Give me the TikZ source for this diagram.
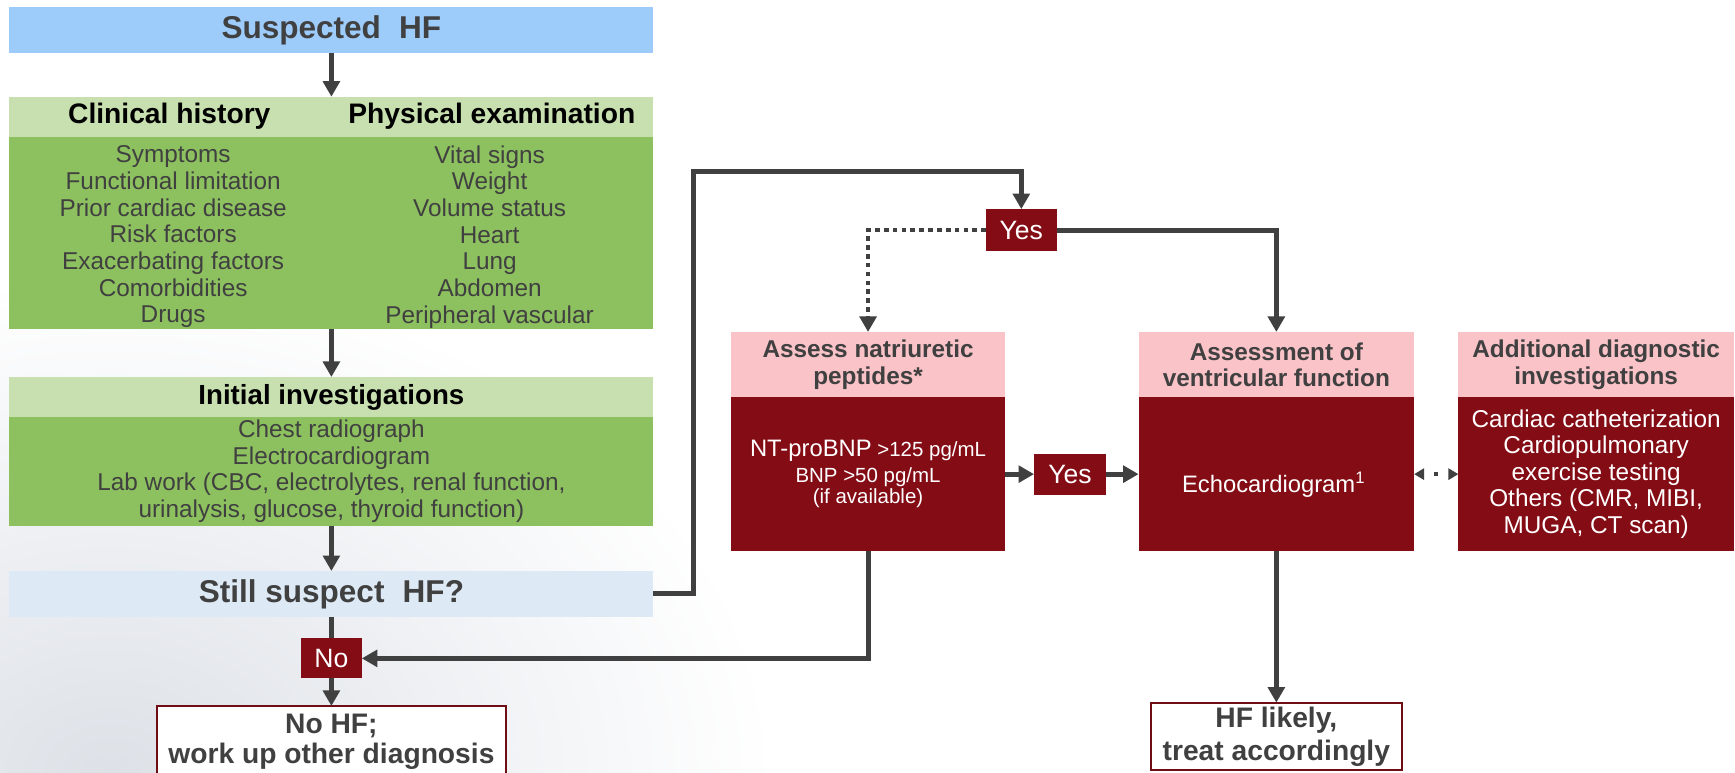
\documentclass[tikz,border=0pt]{standalone}
\usepackage{fontspec}
\setmainfont{Liberation Sans}
\usetikzlibrary{arrows.meta}
\definecolor{dred}{HTML}{830C15}
\definecolor{dredline}{HTML}{6E0E14}
\definecolor{pinkh}{HTML}{F9C3C8}
\definecolor{bluetop}{HTML}{9DCCFB}
\definecolor{greenh}{HTML}{C8E0B0}
\definecolor{greenb}{HTML}{8DC15F}
\definecolor{stillc}{HTML}{DDE9F5}
\definecolor{tgray}{HTML}{404040}
\definecolor{agray}{HTML}{404040}
\definecolor{bgshade}{HTML}{DDE1E7}
\newcommand\myfs[2]{\fontsize{#1}{#2}\selectfont}
\begin{document}
\begin{tikzpicture}[x=1pt,y=-1pt,
  box/.style={inner sep=0pt, outer sep=0pt, align=center},
  ln/.style={draw=agray, line width=4.5pt},
  arr/.style={ln, -{Triangle[width=15pt,length=14pt]}},
  dotarr/.style={draw=agray, line width=4.2pt, dash pattern=on 4.2pt off 3.8pt, -{Triangle[width=15pt,length=14pt]}},
  dotdbl/.style={draw=agray, line width=4pt, dash pattern=on 4pt off 30pt, dash phase=24.5pt, {Triangle[width=10pt,length=9pt]}-{Triangle[width=10pt,length=9pt]}},
  redbox/.style={box, fill=dred, text=white},
  pinkbox/.style={box, fill=pinkh, text=tgray, font=\myfs{22}{24}\bfseries},
  endbox/.style={box, fill=white, draw=dredline, line width=1.8pt, text=tgray}
]
\useasboundingbox (0,0) rectangle (1568,698);
\fill[white] (0,0) rectangle (1568,698);
\shade[inner color=bgshade, outer color=white] (-500,250) rectangle (700,1150);

% left column
\node[box, fill=bluetop, minimum width=582pt, minimum height=41.4pt, text=tgray, font=\myfs{28.5}{30}\bfseries] (sus) at (299.5,27.3) {Suspected\hspace{0.3em} HF};

\node[box, fill=greenh, minimum width=582pt, minimum height=36pt] (chh) at (299.5,105.4) {};
\node[box, font=\myfs{25.5}{27}\bfseries] (cht) at (153,105.4) {Clinical history};
\node[box, font=\myfs{25.5}{27}\bfseries] (pet) at (444.5,105.4) {Physical examination};
\node[box, fill=greenb, minimum width=582pt, minimum height=174pt] (chb) at (299.5,210.5) {};
\node[box, text=tgray, font=\myfs{22}{24.1}] (chl) at (156.5,214) {Symptoms\\Functional limitation\\Prior cardiac disease\\Risk factors\\Exacerbating factors\\Comorbidities\\Drugs};
\node[box, text=tgray, font=\myfs{22}{24.1}] (per) at (442.5,214) {Vital signs\\Weight\\Volume status\\Heart\\Lung\\Abdomen\\Peripheral vascular};

\node[box, fill=greenh, minimum width=582pt, minimum height=36.2pt, font=\myfs{25}{27}\bfseries] (inh) at (299.5,358.8) {Initial investigations};
\node[box, fill=greenb, minimum width=582pt, minimum height=98pt, text=tgray, font=\myfs{22}{24}] (inb) at (299.5,426) {Chest radiograph\\Electrocardiogram\\Lab work (CBC, electrolytes, renal function,\\urinalysis, glucose, thyroid function)};

\node[box, fill=stillc, minimum width=582pt, minimum height=41.5pt, text=tgray, font=\myfs{28.5}{30}\bfseries] (still) at (299.5,536.8) {Still suspect\hspace{0.3em} HF?};

\node[redbox, minimum width=55pt, minimum height=36pt, font=\myfs{24}{26}] (no) at (299.5,595) {No};
\node[endbox, minimum width=315pt, minimum height=65pt, font=\myfs{25.5}{26.5}\bfseries] (nohf) at (299.5,670.5) {No HF;\\work up other diagnosis};

% right part
\coordinate (c1) at (627,155);
\node[redbox, minimum width=64pt, minimum height=38pt, font=\myfs{24}{26}] (yes1) at (923,208) {Yes};

\node[pinkbox, minimum width=247pt, minimum height=59pt] (assh) at (784.5,329.5) {Assess natriuretic\\peptides*};
\node[redbox, minimum width=247pt, minimum height=139pt, font=\myfs{18.5}{18.5}] (assb) at (784.5,428.5) {{\myfs{21.5}{23}NT-proBNP} >125 pg/mL\\[5pt]BNP >50 pg/mL\\(if available)};

\node[redbox, minimum width=65pt, minimum height=37pt, font=\myfs{24}{26}] (yes2) at (967,428.5) {Yes};

\node[pinkbox, minimum width=249pt, minimum height=59pt] (avfh) at (1153.5,329.5) {Assessment of\\ventricular function};
\node[redbox, minimum width=249pt, minimum height=139pt] (avfb) at (1153.5,428.5) {};
\node[box, text=white, font=\myfs{21.5}{23}] (echo) at (1151,438) {Echocardiogram\textsuperscript{1}};

\node[pinkbox, minimum width=249pt, minimum height=59pt] (addh) at (1442.5,329.5) {Additional diagnostic\\investigations};
\node[redbox, minimum width=249pt, minimum height=139pt, font=\myfs{22}{24}] (addb) at (1442.5,428.5) {Cardiac catheterization\\Cardiopulmonary\\exercise testing\\Others (CMR, MIBI,\\MUGA, CT scan)};

\node[endbox, minimum width=227pt, minimum height=61pt, font=\myfs{25.5}{30}\bfseries] (hfl) at (1153.5,665.5) {HF likely,\\treat accordingly};

% connectors
\draw[arr] (sus.south) -- (chh.north);
\draw[arr] (chb.south) -- (inh.north);
\draw[arr] (inb.south) -- (still.north);
\draw[ln] (still.south) -- (no.north);
\draw[arr] (no.south) -- (nohf.north);
\draw[arr] (still.east) -| (c1) -| (yes1.north);
\draw[dotarr] (yes1.west) -| (assh.north);
\draw[arr] (yes1.east) -| (avfh.north);
\draw[arr] (assb.east) -- (yes2.west);
\draw[arr] (yes2.east) -- (avfb.west);
\draw[dotdbl] (avfb.east) -- (addb.west);
\draw[arr] (assb.south) |- (no.east);
\draw[arr] (avfb.south) -- (hfl.north);
\end{tikzpicture}
\end{document}
